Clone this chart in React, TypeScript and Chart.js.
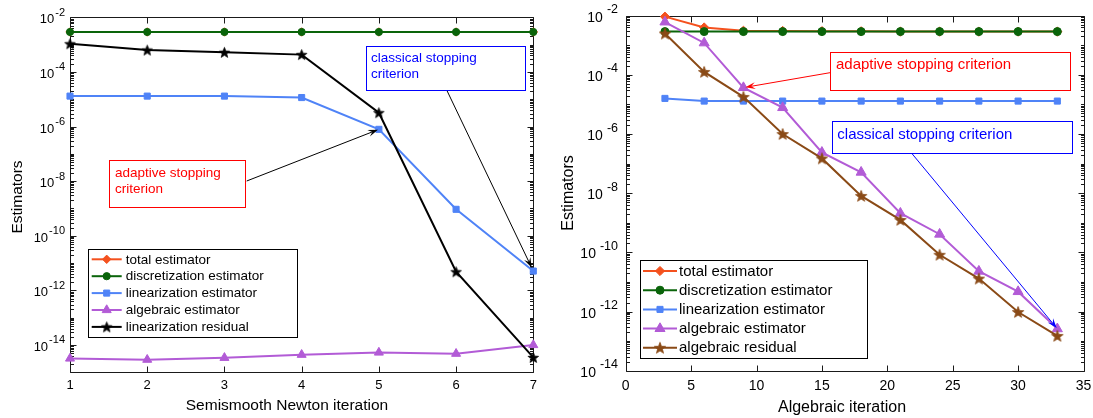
import React, { useEffect, useRef } from 'react';
import { Chart, registerables } from 'chart.js';
Chart.register(...registerables);

const FONT = '"Liberation Sans", Arial, Helvetica, sans-serif';

// ---------- Left panel data ----------
const newtonIter = [1, 2, 3, 4, 5, 6, 7];
const leftTotal = [2.9e-3, 2.9e-3, 2.9e-3, 2.9e-3, 2.9e-3, 2.9e-3, 2.9e-3];
const leftDisc = [2.9e-3, 2.9e-3, 2.9e-3, 2.9e-3, 2.9e-3, 2.9e-3, 2.9e-3];
const leftLin = [1.3e-5, 1.3e-5, 1.3e-5, 1.15e-5, 7.9e-7, 9.3e-10, 5.1e-12];
const leftAlg = [3.2e-15, 2.9e-15, 3.4e-15, 4.4e-15, 5.3e-15, 4.8e-15, 1.0e-14];
const leftLinRes = [1.07e-3, 6.3e-4, 5.2e-4, 4.3e-4, 3.2e-6, 4.8e-12, 3.5e-15];
const leftXTicks = [1, 2, 3, 4, 5, 6, 7];
const leftYExps = [-2, -4, -6, -8, -10, -12, -14];

// ---------- Right panel data ----------
const algIter = [3, 6, 9, 12, 15, 18, 21, 24, 27, 30, 33];
const rightTotal = [9.3e-3, 4.0e-3, 3.1e-3, 3.05e-3, 3.0e-3, 2.97e-3, 2.9e-3, 2.9e-3, 2.9e-3, 2.9e-3, 2.9e-3];
const rightDisc = [2.9e-3, 2.9e-3, 2.9e-3, 2.9e-3, 2.9e-3, 2.9e-3, 2.9e-3, 2.9e-3, 2.9e-3, 2.9e-3, 2.9e-3];
const rightLin = [1.6e-5, 1.3e-5, 1.3e-5, 1.3e-5, 1.3e-5, 1.3e-5, 1.3e-5, 1.3e-5, 1.3e-5, 1.3e-5, 1.3e-5];
const rightAlg = [6.1e-3, 1.2e-3, 3.7e-5, 7.8e-6, 2.4e-7, 5.1e-8, 2.1e-9, 4.1e-10, 2.3e-11, 4.7e-12, 2.6e-13];
const rightAlgRes = [2.5e-3, 1.26e-4, 1.8e-5, 1.0e-6, 1.5e-7, 8.1e-9, 1.25e-9, 8.3e-11, 1.3e-11, 9.6e-13, 1.5e-13];
const rightXTicks = [0, 5, 10, 15, 20, 25, 30, 35];
const rightYExps = [-2, -4, -6, -8, -10, -12, -14];

const C_TOTAL = '#f4511e';
const C_DISC = '#0a640a';
const C_LIN = '#4f83f7';
const C_ALG = '#b25bd6';
const C_LINRES = '#000000';
const C_ALGRES = '#8a4a16';

type SeriesDef = { label: string; data: number[]; color: string; style: string; radius: number };

function makeStar(color: string, size: number): HTMLCanvasElement {
  const c = document.createElement('canvas');
  const S = Math.ceil(size) + 2;
  c.width = S;
  c.height = S;
  const ctx = c.getContext('2d')!;
  const cx = S / 2, cy = S / 2 + 0.5;
  const R = size / 2, r = R * 0.42;
  ctx.beginPath();
  for (let i = 0; i < 10; i++) {
    const ang = -Math.PI / 2 + (i * Math.PI) / 5;
    const rr = i % 2 === 0 ? R : r;
    const px = cx + rr * Math.cos(ang), py = cy + rr * Math.sin(ang);
    if (i === 0) ctx.moveTo(px, py); else ctx.lineTo(px, py);
  }
  ctx.closePath();
  ctx.fillStyle = color;
  ctx.fill();
  ctx.lineWidth = 0.8;
  ctx.strokeStyle = color;
  ctx.stroke();
  return c;
}

function drawMarker(ctx: CanvasRenderingContext2D, s: SeriesDef, x: number, y: number, star?: HTMLCanvasElement) {
  ctx.save();
  ctx.fillStyle = s.color;
  ctx.strokeStyle = s.color;
  ctx.lineWidth = 1;
  const r = s.radius;
  ctx.beginPath();
  if (s.style === 'circle') {
    ctx.arc(x, y, r, 0, Math.PI * 2);
  } else if (s.style === 'rect') {
    const h = r * Math.SQRT1_2;
    ctx.rect(x - h, y - h, 2 * h, 2 * h);
  } else if (s.style === 'rectRot') {
    ctx.moveTo(x, y - r);
    ctx.lineTo(x + r, y);
    ctx.lineTo(x, y + r);
    ctx.lineTo(x - r, y);
    ctx.closePath();
  } else if (s.style === 'triangle') {
    ctx.moveTo(x, y - r);
    ctx.lineTo(x + r * Math.sin((2 * Math.PI) / 3), y - r * Math.cos((2 * Math.PI) / 3));
    ctx.lineTo(x + r * Math.sin((4 * Math.PI) / 3), y - r * Math.cos((4 * Math.PI) / 3));
    ctx.closePath();
  } else if (s.style === 'star' && star) {
    ctx.drawImage(star, x - star.width / 2, y - star.height / 2);
    ctx.restore();
    return;
  }
  ctx.fill();
  ctx.stroke();
  ctx.restore();
}

type BoxDef = {
  x: number; y: number; w: number; h: number;
  lines: string[]; color: string; font: number; textX: number; baselines: number[];
  from: [number, number]; seriesIdx: number; pointIdx: number; backoff: number; arrowColor: string;
};

type PanelDef = {
  width: number;
  xs: number[];
  series: SeriesDef[];
  xMin: number; xMax: number; yMin: number; yMax: number;
  padding: { left: number; right: number; top: number; bottom: number };
  xTicks: number[]; yExps: number[];
  tickFont: number; supFont: number; supGap: number; yLabelRight: number; baseDy: number; supDy: number;
  xLabelBaseline: number;
  xTitle: string; xTitleX: number; xTitleY: number; titleFont: number;
  yTitleX: number; yTitleY: number;
  legend: { x: number; y: number; w: number; h: number; lx0: number; lx1: number; tx: number; rows: number[]; font: number };
  boxes: BoxDef[];
  starSize: number;
};

function drawArrow(ctx: CanvasRenderingContext2D, x0: number, y0: number, x1: number, y1: number, color: string) {
  const ang = Math.atan2(y1 - y0, x1 - x0);
  const L = 10, W = 3.5;
  ctx.save();
  ctx.strokeStyle = color;
  ctx.fillStyle = color;
  ctx.lineWidth = 1;
  ctx.beginPath();
  ctx.moveTo(x0, y0);
  ctx.lineTo(x1 - Math.cos(ang) * L * 0.6, y1 - Math.sin(ang) * L * 0.6);
  ctx.stroke();
  const bx = x1 - Math.cos(ang) * L, by = y1 - Math.sin(ang) * L;
  ctx.beginPath();
  ctx.moveTo(x1, y1);
  ctx.lineTo(bx + Math.sin(ang) * W, by - Math.cos(ang) * W);
  ctx.lineTo(x1 - Math.cos(ang) * L * 0.6, y1 - Math.sin(ang) * L * 0.6);
  ctx.lineTo(bx - Math.sin(ang) * W, by + Math.cos(ang) * W);
  ctx.closePath();
  ctx.fill();
  ctx.restore();
}

function makePlugin(p: PanelDef, stars: Record<number, HTMLCanvasElement>) {
  return {
    id: 'panelDecor',
    beforeDatasetsDraw(chart: any) {
      const ctx: CanvasRenderingContext2D = chart.ctx;
      const a = chart.chartArea;
      const xs = chart.scales.x, ys = chart.scales.y;
      ctx.save();
      ctx.strokeStyle = '#1a1a1a';
      ctx.lineWidth = 1;
      const L = Math.round(a.left) + 0.5, R = Math.round(a.right) + 0.5;
      const T = Math.round(a.top) + 0.5, B = Math.round(a.bottom) + 0.5;
      ctx.beginPath();
      ctx.rect(L, T, R - L, B - T);
      // x ticks
      for (const t of p.xTicks) {
        const px = Math.round(xs.getPixelForValue(t)) + 0.5;
        ctx.moveTo(px, B); ctx.lineTo(px, B - 6);
        ctx.moveTo(px, T); ctx.lineTo(px, T + 6);
      }
      // y ticks
      const e0 = Math.round(Math.log10(p.yMin)), e1 = Math.round(Math.log10(p.yMax));
      for (let e = e0; e <= e1; e++) {
        const major = p.yExps.includes(e);
        const py = Math.round(ys.getPixelForValue(Math.pow(10, e))) + 0.5;
        const len = major ? 6 : 3.5;
        ctx.moveTo(L, py); ctx.lineTo(L + len, py);
        ctx.moveTo(R, py); ctx.lineTo(R - len, py);
        if (e < e1) {
          for (let k = 2; k <= 9; k++) {
            const my = Math.round(ys.getPixelForValue(k * Math.pow(10, e))) + 0.5;
            ctx.moveTo(L, my); ctx.lineTo(L + 3.5, my);
            ctx.moveTo(R, my); ctx.lineTo(R - 3.5, my);
          }
        }
      }
      ctx.stroke();
      ctx.restore();
    },
    afterDraw(chart: any) {
      const ctx: CanvasRenderingContext2D = chart.ctx;
      const xs = chart.scales.x, ys = chart.scales.y;
      ctx.save();
      ctx.fillStyle = '#000';
      // x tick labels
      ctx.font = `${p.tickFont}px ${FONT}`;
      ctx.textAlign = 'center';
      ctx.textBaseline = 'alphabetic';
      for (const t of p.xTicks) {
        ctx.fillText(String(t), xs.getPixelForValue(t), p.xLabelBaseline);
      }
      // y tick labels 10^e
      for (const e of p.yExps) {
        const py = ys.getPixelForValue(Math.pow(10, e));
        const sup = '-' + Math.abs(e);
        ctx.font = `${p.supFont}px ${FONT}`;
        const sw = ctx.measureText(sup).width;
        ctx.font = `${p.tickFont}px ${FONT}`;
        const bw = ctx.measureText('10').width;
        const supX = p.yLabelRight - sw;
        const baseX = supX - p.supGap - bw;
        ctx.textAlign = 'left';
        ctx.fillText('10', baseX, py + p.baseDy);
        ctx.font = `${p.supFont}px ${FONT}`;
        ctx.fillText(sup, supX, py + p.supDy);
      }
      // axis titles
      ctx.font = `${p.titleFont}px ${FONT}`;
      ctx.textAlign = 'center';
      ctx.fillText(p.xTitle, p.xTitleX, p.xTitleY);
      ctx.save();
      ctx.translate(p.yTitleX, p.yTitleY);
      ctx.rotate(-Math.PI / 2);
      ctx.textBaseline = 'middle';
      ctx.fillText('Estimators', 0, 0);
      ctx.restore();

      // annotations
      for (const b of p.boxes) {
        const s = p.series[b.seriesIdx];
        const tx = xs.getPixelForValue(p.xs[b.pointIdx]);
        const ty = ys.getPixelForValue(s.data[b.pointIdx]);
        const ang = Math.atan2(ty - b.from[1], tx - b.from[0]);
        const ex = tx - Math.cos(ang) * b.backoff, ey = ty - Math.sin(ang) * b.backoff;
        drawArrow(ctx, b.from[0], b.from[1], ex, ey, b.arrowColor);
        ctx.fillStyle = '#fff';
        ctx.fillRect(b.x, b.y, b.w, b.h);
        ctx.strokeStyle = b.color;
        ctx.lineWidth = 1;
        ctx.strokeRect(Math.round(b.x) + 0.5, Math.round(b.y) + 0.5, Math.round(b.w), Math.round(b.h));
        ctx.fillStyle = b.color;
        ctx.font = `${b.font}px ${FONT}`;
        ctx.textAlign = 'left';
        ctx.textBaseline = 'alphabetic';
        b.lines.forEach((ln, i) => ctx.fillText(ln, b.textX, b.baselines[i]));
      }

      // legend
      const lg = p.legend;
      ctx.fillStyle = '#fff';
      ctx.fillRect(lg.x, lg.y, lg.w, lg.h);
      ctx.strokeStyle = '#000';
      ctx.lineWidth = 1;
      ctx.strokeRect(Math.round(lg.x) + 0.5, Math.round(lg.y) + 0.5, Math.round(lg.w), Math.round(lg.h));
      p.series.forEach((s, i) => {
        const ry = lg.rows[i];
        ctx.strokeStyle = s.color;
        ctx.lineWidth = 2;
        ctx.beginPath();
        ctx.moveTo(lg.lx0, ry);
        ctx.lineTo(lg.lx1, ry);
        ctx.stroke();
        drawMarker(ctx, s, (lg.lx0 + lg.lx1) / 2, ry, stars[i]);
        ctx.fillStyle = '#000';
        ctx.font = `${lg.font}px ${FONT}`;
        ctx.textAlign = 'left';
        ctx.textBaseline = 'middle';
        ctx.fillText(s.label, lg.tx, ry + 0.5);
      });
      ctx.restore();
    },
  };
}

const leftSeries: SeriesDef[] = [
  { label: 'total estimator', data: leftTotal, color: C_TOTAL, style: 'rectRot', radius: 4.2 },
  { label: 'discretization estimator', data: leftDisc, color: C_DISC, style: 'circle', radius: 3.6 },
  { label: 'linearization estimator', data: leftLin, color: C_LIN, style: 'rect', radius: 4.3 },
  { label: 'algebraic estimator', data: leftAlg, color: C_ALG, style: 'triangle', radius: 5.2 },
  { label: 'linearization residual', data: leftLinRes, color: C_LINRES, style: 'star', radius: 5 },
];

const rightSeries: SeriesDef[] = [
  { label: 'total estimator', data: rightTotal, color: C_TOTAL, style: 'rectRot', radius: 4.6 },
  { label: 'discretization estimator', data: rightDisc, color: C_DISC, style: 'circle', radius: 4 },
  { label: 'linearization estimator', data: rightLin, color: C_LIN, style: 'rect', radius: 4.3 },
  { label: 'algebraic estimator', data: rightAlg, color: C_ALG, style: 'triangle', radius: 5.8 },
  { label: 'algebraic residual', data: rightAlgRes, color: C_ALGRES, style: 'star', radius: 5.5 },
];

const leftPanel: PanelDef = {
  width: 546,
  xs: newtonIter,
  series: leftSeries,
  xMin: 1, xMax: 7, yMin: 1e-15, yMax: 1e-2,
  padding: { left: 70, right: 12.7, top: 17.3, bottom: 45.7 },
  xTicks: leftXTicks, yExps: leftYExps,
  tickFont: 13, supFont: 11, supGap: 1, yLabelRight: 65, baseDy: 6, supDy: -1.5,
  xLabelBaseline: 388.5,
  xTitle: 'Semismooth Newton iteration', xTitleX: 287, xTitleY: 410, titleFont: 15.5,
  yTitleX: 18, yTitleY: 197,
  legend: { x: 88.3, y: 249.3, w: 209.4, h: 87.7, lx0: 91.7, lx1: 121.7, tx: 125.7, rows: [259.3, 276.2, 293.1, 310, 326.9], font: 13.5 },
  boxes: [
    {
      x: 109.3, y: 160, w: 136.4, h: 47.3, lines: ['adaptive stopping', 'criterion'], color: '#ff0000', font: 13.5,
      textX: 115, baselines: [176.6, 192.7], from: [246.7, 181], seriesIdx: 2, pointIdx: 4, backoff: 1,
      arrowColor: '#000',
    },
    {
      x: 365.7, y: 46, w: 159.3, h: 44, lines: ['classical stopping', 'criterion'], color: '#0000ff', font: 13.5,
      textX: 371, baselines: [61.6, 77.6], from: [446.7, 90], seriesIdx: 2, pointIdx: 6, backoff: 4,
      arrowColor: '#000',
    },
  ],
  starSize: 11,
};

const RX = 546;
const rightPanel: PanelDef = {
  width: 547,
  xs: algIter,
  series: rightSeries,
  xMin: 0, xMax: 35, yMin: 1e-14, yMax: 1e-2,
  padding: { left: 79.7, right: 9.5, top: 15.7, bottom: 47.3 },
  xTicks: rightXTicks, yExps: rightYExps,
  tickFont: 14, supFont: 12.5, supGap: 4, yLabelRight: 618 - RX, baseDy: 6, supDy: -2.5,
  xLabelBaseline: 390,
  xTitle: 'Algebraic iteration', xTitleX: 842 - RX, xTitleY: 411.5, titleFont: 16,
  yTitleX: 569 - RX, yTitleY: 193,
  legend: { x: 640 - RX, y: 260, w: 227, h: 98, lx0: 643 - RX, lx1: 677 - RX, tx: 679 - RX, rows: [271, 290.2, 309.4, 328.6, 347.8], font: 15 },
  boxes: [
    {
      x: 830 - RX, y: 51.7, w: 240, h: 37.6, lines: ['adaptive stopping criterion'], color: '#ff0000', font: 15,
      textX: 836 - RX, baselines: [69.3], from: [830 - RX, 72.7], seriesIdx: 3, pointIdx: 2, backoff: 2,
      arrowColor: '#ff0000',
    },
    {
      x: 831.7 - RX, y: 121, w: 240.3, h: 31.7, lines: ['classical stopping criterion'], color: '#0000ff', font: 15,
      textX: 837.3 - RX, baselines: [139.3], from: [912.3 - RX, 154], seriesIdx: 3, pointIdx: 10, backoff: 1,
      arrowColor: '#0000ff',
    },
  ],
  starSize: 12,
};

function Panel({ def, left }: { def: PanelDef; left: number }) {
  const ref = useRef<HTMLCanvasElement>(null);
  useEffect(() => {
    const canvas = ref.current!;
    const stars: Record<number, HTMLCanvasElement> = {};
    def.series.forEach((s, i) => {
      if (s.style === 'star') stars[i] = makeStar(s.color, def.starSize);
    });
    const n = def.series.length;
    const chart = new Chart(canvas, {
      type: 'line',
      data: {
        datasets: def.series.map((s, i) => ({
          label: s.label,
          data: def.xs.map((x, j) => ({ x, y: s.data[j] })),
          borderColor: s.color,
          backgroundColor: s.color,
          borderWidth: 2,
          pointStyle: s.style === 'star' ? stars[i] : s.style,
          pointRadius: s.radius,
          pointBorderWidth: 1,
          pointBorderColor: s.color,
          pointBackgroundColor: s.color,
          tension: 0,
          clip: false as any,
          order: n - i,
        })),
      },
      options: {
        responsive: false,
        animation: false,
        events: [],
        devicePixelRatio: 1,
        layout: { padding: def.padding },
        plugins: { legend: { display: false }, tooltip: { enabled: false } },
        scales: {
          x: { type: 'linear', min: def.xMin, max: def.xMax, display: false },
          y: { type: 'logarithmic', min: def.yMin, max: def.yMax, display: false },
        },
      },
      plugins: [makePlugin(def, stars) as any],
    });
    return () => chart.destroy();
  }, [def]);
  return (
    <canvas
      ref={ref}
      width={def.width}
      height={418}
      style={{ position: 'absolute', left, top: 0, width: def.width, height: 418 }}
    />
  );
}

export default function App() {
  return (
    <div style={{ position: 'absolute', left: 0, top: 0, width: 1093, height: 418, background: '#fff' }}>
      <Panel def={leftPanel} left={0} />
      <Panel def={rightPanel} left={546} />
    </div>
  );
}
